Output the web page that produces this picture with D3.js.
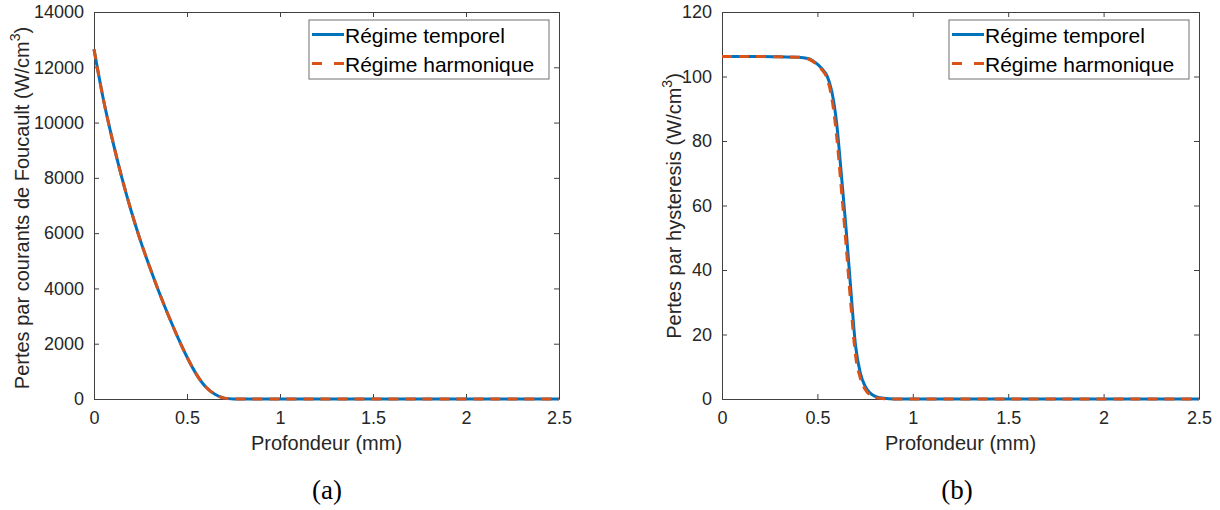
<!DOCTYPE html>
<html>
<head>
<meta charset="utf-8">
<script src="https://cdn.jsdelivr.net/npm/d3@7"></script>
<style>
  body { margin: 0; background: #fff; }
  svg { display: block; }
  .tick text { font-family: "Liberation Sans", Arial, sans-serif; }
</style>
</head>
<body>
<svg id="chart" width="1220" height="510"></svg>
<script>
// profondeur (mm)
const depthA = [0, 0.05, 0.1, 0.15, 0.2, 0.25, 0.3, 0.35, 0.4, 0.45, 0.5, 0.55, 0.6, 0.65, 0.7, 0.75, 0.8, 1.0, 1.5, 2.0, 2.5]
// pertes par courants de Foucault (W/cm3)
const foucaultTemporel = [12650, 10850, 9350, 8000, 6800, 5720, 4765, 3860, 3020, 2240, 1520, 900, 440, 170, 32, 4, 0, 0, 0, 0, 0]
const foucaultHarmonique = [12650, 10850, 9350, 8000, 6800, 5720, 4765, 3860, 3020, 2240, 1520, 900, 440, 170, 32, 4, 0, 0, 0, 0, 0]

const depthB = [0, 0.1, 0.2, 0.3, 0.4, 0.45, 0.5, 0.525, 0.55, 0.575, 0.6, 0.625, 0.65, 0.675, 0.7, 0.725, 0.75, 0.775, 0.8, 0.85, 0.9, 1.0, 1.5, 2.0, 2.5]
// pertes par hysteresis (W/cm3)
const hystTemporel = [106.2, 106.2, 106.2, 106.1, 106.0, 105.6, 103.8, 102.3, 100.3, 95.5, 86.0, 70.0, 53.0, 34.0, 16.5, 8.0, 4.0, 1.9, 0.9, 0.2, 0, 0, 0, 0, 0]
const hystHarmonique = [106.2, 106.2, 106.2, 106.1, 106.0, 105.5, 103.6, 102.0, 99.5, 93.5, 82.0, 65.5, 48.0, 29.5, 13.5, 6.5, 3.0, 1.3, 0.5, 0.1, 0, 0, 0, 0, 0]

const xTicks = [0, 0.5, 1, 1.5, 2, 2.5]
const yTicksA = [0, 2000, 4000, 6000, 8000, 10000, 12000, 14000]
const yTicksB = [0, 20, 40, 60, 80, 100, 120]
const seriesNames = ["Régime temporel", "Régime harmonique"]

const blue = "#0072BD"
const orange = "#D95319"
const axisColor = "#404040"
const sans = "'Liberation Sans', Arial, sans-serif"

const svg = d3.select("#chart")

function drawPanel(p) {
  const x = d3.scaleLinear().domain([0, 2.5]).range([p.left, p.right])
  const y = d3.scaleLinear().domain([0, p.ymax]).range([399, 12])
  const g = svg.append("g")

  const fmt = d => d3.format("")(d)
  const bottom = g.append("g").attr("transform", "translate(0,399)")
    .call(d3.axisBottom(x).tickValues(xTicks).tickFormat(fmt).tickSizeInner(-5).tickSizeOuter(0).tickPadding(12))
  const top = g.append("g").attr("transform", "translate(0,12)")
    .call(d3.axisTop(x).tickValues(xTicks).tickFormat("").tickSizeInner(-5).tickSizeOuter(0))
  const left = g.append("g").attr("transform", "translate(" + p.left + ",0)")
    .call(d3.axisLeft(y).tickValues(p.yTicks).tickFormat(fmt).tickSizeInner(-5).tickSizeOuter(0).tickPadding(10))
  const right = g.append("g").attr("transform", "translate(" + p.right + ",0)")
    .call(d3.axisRight(y).tickValues(p.yTicks).tickFormat("").tickSizeInner(-5).tickSizeOuter(0))

  ;[bottom, top, left, right].forEach(a => {
    a.select(".domain").attr("stroke", axisColor)
    a.selectAll(".tick line").attr("stroke", axisColor)
    a.selectAll(".tick text").attr("fill", "#262626").style("font-size", "18px")
  })

  const line = d3.line().x(d => x(d[0])).y(d => y(d[1])).curve(d3.curveMonotoneX)
  g.append("path")
    .datum(p.depth.map((d, i) => [d, p.temporel[i]]))
    .attr("d", line).attr("fill", "none").attr("stroke", blue).attr("stroke-width", 3)
  g.append("path")
    .datum(p.depth.map((d, i) => [d, p.harmonique[i]]))
    .attr("d", line).attr("fill", "none").attr("stroke", orange).attr("stroke-width", 3)
    .attr("stroke-dasharray", "10,7")

  // x label
  g.append("text")
    .attr("x", (p.left + p.right) / 2).attr("y", 450)
    .attr("text-anchor", "middle").style("font-family", sans).style("font-size", "20px").attr("fill", "#262626")
    .text("Profondeur (mm)")

  // y label
  const yl = g.append("text")
    .attr("transform", "translate(" + p.ylabelX + "," + p.ylabelY + ") rotate(-90)")
    .attr("text-anchor", "middle").style("font-family", sans).style("font-size", "20px").attr("fill", "#262626")
  yl.append("tspan").text(p.ylabel + " (W/cm")
  yl.append("tspan").attr("dy", -9).style("font-size", "14px").text("3")
  yl.append("tspan").attr("dy", 9).text(")")

  // legend
  const lx = p.right - 250, ly = 20
  const lg = g.append("g")
  lg.append("rect").attr("x", lx).attr("y", ly).attr("width", 240).attr("height", 59)
    .attr("fill", "#fff").attr("stroke", "#707070").attr("stroke-width", 1)
  seriesNames.forEach((name, i) => {
    const cy = ly + 14.5 + i * 29
    lg.append("line").attr("x1", lx + 3).attr("x2", lx + 35).attr("y1", cy).attr("y2", cy)
      .attr("stroke", i === 0 ? blue : orange).attr("stroke-width", 3)
      .attr("stroke-dasharray", i === 0 ? null : "10,12")
    lg.append("text").attr("x", lx + 36).attr("y", cy + 8)
      .style("font-family", sans).style("font-size", "21px").attr("fill", "#000")
      .text(name)
  })

  // panel caption
  g.append("text")
    .attr("x", p.captionX).attr("y", 499)
    .attr("text-anchor", "middle").style("font-family", "'Liberation Serif', 'DejaVu Serif', serif").style("font-size", "27px")
    .text(p.caption)
}

drawPanel({
  left: 94, right: 559, ymax: 14000, yTicks: yTicksA,
  depth: depthA, temporel: foucaultTemporel, harmonique: foucaultHarmonique,
  ylabel: "Pertes par courants de Foucault", ylabelX: 29, ylabelY: 208,
  caption: "(a)", captionX: 327
})
drawPanel({
  left: 722, right: 1199, ymax: 120, yTicks: yTicksB,
  depth: depthB, temporel: hystTemporel, harmonique: hystHarmonique,
  ylabel: "Pertes par hysteresis", ylabelX: 681, ylabelY: 206,
  caption: "(b)", captionX: 957
})
</script>
</body>
</html>
